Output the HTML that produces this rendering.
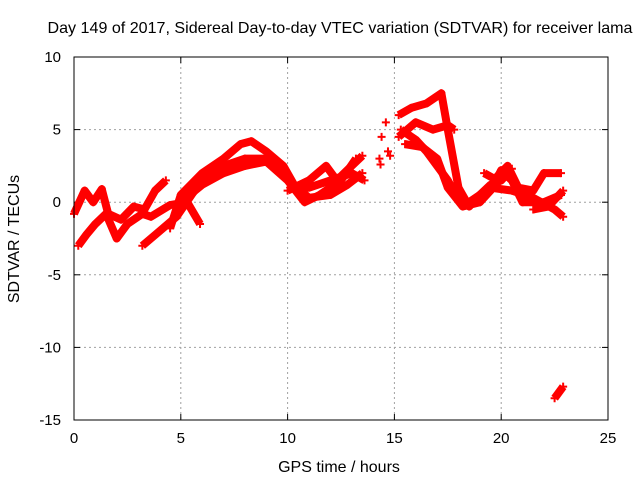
<!DOCTYPE html>
<html><head><meta charset="utf-8"><style>
body{margin:0;background:#fff;width:640px;height:480px;overflow:hidden}
svg text{font-family:"Liberation Sans",sans-serif;font-size:15px;fill:#000}
svg text.big{font-size:16px}
</style></head><body>
<svg id="chart" width="640" height="480">
<text class="big" x="340" y="33" text-anchor="middle" textLength="585" lengthAdjust="spacingAndGlyphs">Day 149 of 2017, Sidereal Day-to-day VTEC variation (SDTVAR) for receiver lama</text>
<g id="grid"></g>
<g id="ticks"></g>
<g id="series"></g>
<rect x="74" y="57" width="534" height="363" fill="none" stroke="#000" stroke-width="1"/>
<text class="big" x="339" y="472" text-anchor="middle">GPS time / hours</text>
<text class="big" transform="translate(19,239) rotate(-90)" text-anchor="middle">SDTVAR / TECUs</text>
</svg>
<script>
const xTicks=[0,5,10,15,20,25];
const yTicks=[10,5,0,-5,-10,-15];
const trackA=[[0,-0.8],[0.5,0.8],[0.9,0],[1.3,0.9],[1.6,-0.8],[2.2,-1.2],[2.8,-0.3],[3.3,-0.5],[3.8,0.8],[4.3,1.5]];
const trackB=[[0.2,-3],[0.6,-2.2],[1,-1.5],[1.5,-0.8],[2,-2.5],[2.5,-1.5],[3.2,-0.8],[3.6,-1],[4.5,-0.2],[5.3,0],[5.9,-1.5]];
const trackC=[[3.2,-3],[4,-2],[4.8,-1],[5.5,0.5],[6,1.5],[7,2.5],[8,3],[9,3],[9.8,2],[10.3,1],[11,1],[12,1.5],[13,2],[13.6,1.5]];
const trackD=[[4.5,-1.8],[5,0.5],[6,2],[7,3],[7.8,4],[8.3,4.2],[9,3.5],[9.8,2.5],[10.3,1.2],[11,0.3],[12,0.5],[12.8,1.2],[13.5,2]];
const trackE=[[5,0],[6,1.2],[7,2],[8,2.5],[9,2.8],[10,1.5],[10.8,0],[11.5,0.5],[12.5,1.5],[13.2,3]];
const trackF=[[10,0.8],[11,1.5],[11.8,2.5],[12.3,1.5],[13,2.5],[13.5,3.2]];
const trackH=[[15.2,6],[15.8,6.5],[16.5,6.8],[17.2,7.5],[17.5,5],[18,1],[18.5,-0.3],[19,0.5],[19.5,1.2],[20,1.5],[20.5,2.3]];
const trackI=[[15.2,4.5],[16,5.5],[16.8,5],[17.5,5.3],[17.8,5]];
const trackJ=[[15.3,5],[16,4.3],[16.5,3.5],[17,2.5],[17.5,1.5],[18,0.2],[18.5,0],[19.5,1],[20.5,0.8],[21.5,0.3],[22.5,-0.5],[22.9,-1]];
const trackK=[[15.5,4],[16.3,3.8],[17,3],[17.5,1],[18.2,-0.3],[19,0],[19.5,0.8],[20,2.2],[20.5,1.5],[21,0],[22,0],[22.8,0.5]];
const trackL=[[19.2,2],[19.7,1.6],[20.3,2.5],[20.8,1],[21.5,0.8],[22,2],[22.8,2]];
const trackM=[[21.5,-0.5],[22.2,-0.3],[22.9,0.8]];
const trackN=[[22.5,-13.5],[22.9,-12.7]];
const scatter=[[14.3,3],[14.35,2.6],[14.4,4.5],[14.6,5.5],[14.8,3.2],[14.7,3.5]];
const tracks=[trackA,trackB,trackC,trackD,trackE,trackF,trackH,trackI,trackJ,trackK,trackL,trackM,trackN];
const NS='http://www.w3.org/2000/svg';
const X0=74,X1=608,Y0=420,Y1=57;
function xs(t){return X0+(t-0)/(25-0)*(X1-X0);}
function ys(v){return Y0-(v+15)/(25)*(Y0-Y1);}
function mk(tag,attrs,parent){const e=document.createElementNS(NS,tag);for(const k in attrs)e.setAttribute(k,attrs[k]);parent.appendChild(e);return e;}
const grid=document.getElementById('grid'),ticks=document.getElementById('ticks'),ser=document.getElementById('series');
xTicks.forEach(t=>{const x=xs(t);
 if(t>0&&t<25){const l=mk('line',{x1:x,x2:x,y1:Y1,y2:Y0,stroke:'#a0a0a0','stroke-dasharray':'2,3'},grid);
 }
 mk('line',{x1:x,x2:x,y1:Y0,y2:Y0-6,stroke:'#000'},ticks);mk('line',{x1:x,x2:x,y1:Y1,y2:Y1+6,stroke:'#000'},ticks);
 const tx=mk('text',{x:x,y:Y0+23,'text-anchor':'middle'},ticks);tx.textContent=t;
 });
yTicks.forEach(v=>{const y=ys(v);
 if(v<10&&v>-15){const l=mk('line',{x1:X0,x2:X1,y1:y,y2:y,stroke:'#a0a0a0','stroke-dasharray':'2,3'},grid);
 }
 mk('line',{x1:X0,x2:X0+6,y1:y,y2:y,stroke:'#000'},ticks);mk('line',{x1:X1,x2:X1-6,y1:y,y2:y,stroke:'#000'},ticks);
 const tx=mk('text',{x:X0-13,y:y+5,'text-anchor':'end'},ticks);tx.textContent=v;
 });
function plus(t,v){const x=xs(t),y=ys(v);
 const p=mk('path',{d:`M${x-4},${y}H${x+4}M${x},${y-4}V${y+4}`,stroke:'#f00','stroke-width':2},ser);
 }
tracks.forEach(tr=>{
 const pl=mk('polyline',{points:tr.map(p=>xs(p[0])+','+ys(p[1])).join(' '),fill:'none',stroke:'#f00','stroke-width':8,'stroke-linejoin':'round'},ser);
 
 tr.forEach(p=>plus(p[0],p[1]));});
scatter.forEach(p=>plus(p[0],p[1]));
</script>
</body></html>
